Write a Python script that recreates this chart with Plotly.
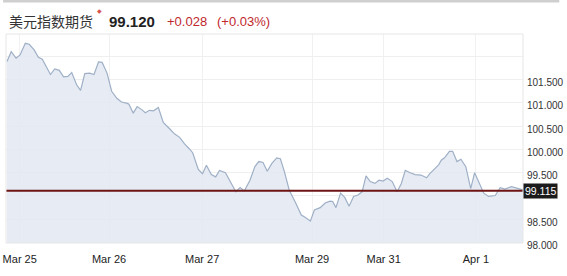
import plotly.graph_objects as go

# ---- data ----
t = [1, 5.3, 10.3, 14.3, 19.7, 23.7, 28.7, 33, 37, 45.3, 49.7, 54.3, 58.7, 63, 67, 72, 76, 80.3,
     85.3, 89.7, 94.3, 98, 103, 107.7, 113, 117.7, 123.7, 125.3, 129.7, 133.7, 138.7, 142, 146.3,
     150.3, 155.3, 160.3, 167, 172, 177, 182, 187, 190.3, 196, 200.3, 204.3, 209.3, 213.7, 217.7,
     223.7, 228.7, 234.3, 238.7, 243, 248.7, 253.7, 257.7, 262, 266.3, 271, 276, 279.7, 283.7,
     288.7, 295.3, 301, 305.3, 310.3, 314.3, 320.3, 325.3, 330.3, 333, 336.3, 341, 345.3, 349.7,
     354.3, 358.7, 363, 367, 371.3, 376, 380.3, 384.3, 388.7, 393.7, 398.7, 403, 407, 412, 417,
     423, 428.7, 432, 436.3, 441, 443.7, 447, 452, 455.3, 459.7, 463.7, 468.7, 473.7, 477.7, 482,
     487, 492, 498.7, 503.7, 508.7, 515.3, 522, 527]
price = [101.89, 102.10, 101.96, 102.03, 102.28, 102.26, 102.14, 101.98, 101.94, 101.61, 101.73,
         101.70, 101.56, 101.57, 101.65, 101.39, 101.27, 101.63, 101.64, 101.61, 101.88, 101.87,
         101.64, 101.25, 101.10, 101.02, 100.99, 100.97, 100.78, 100.92, 100.85, 100.79, 100.84,
         100.83, 100.90, 100.58, 100.44, 100.33, 100.26, 100.12, 100.01, 99.93, 99.57, 99.48,
         99.66, 99.46, 99.41, 99.55, 99.50, 99.31, 99.09, 99.18, 99.11, 99.34, 99.63, 99.74,
         99.72, 99.53, 99.70, 99.82, 99.80, 99.53, 99.13, 98.85, 98.59, 98.54, 98.46, 98.70,
         98.75, 98.85, 98.89, 98.88, 98.75, 99.06, 98.97, 98.78, 98.99, 99.02, 99.09, 99.43,
         99.31, 99.27, 99.34, 99.32, 99.38, 99.31, 99.09, 99.27, 99.55, 99.50, 99.46, 99.45,
         99.39, 99.48, 99.57, 99.67, 99.77, 99.82, 99.96, 99.96, 99.74, 99.79, 99.63, 99.16,
         99.50, 99.31, 99.06, 98.99, 99.01, 99.18, 99.15, 99.20, 99.15, 99.13]
tick_pos = [14, 105, 200, 312, 385, 479]
tick_labels = ["Mar 25", "Mar 26", "Mar 27", "Mar 29", "Mar 31", "Apr 1"]
y_ticks = [98.0, 98.5, 99.0, 99.5, 100.0, 100.5, 101.0, 101.5, 102.0]
# 99.000 is hidden behind the current-level marker; 102.000 has no label
y_labels = ["98.000", "98.500", "", "99.500", "100.000", "100.500", "101.000", "101.500", ""]
ref_level = 99.115
title_name = "美元指数期货"
last_price = "99.120"
change = "+0.028"
change_pct = "(+0.03%)"

W, H = 567, 276
L, R, T, B = 3, 37, 34, 33
PW, PH = W - L - R, H - T - B


def px(xp):
    return (xp - L) / PW


def py(yp):
    return (H - B - yp) / PH


fig = go.Figure()
fig.add_trace(go.Scatter(
    x=t, y=price, mode="lines", fill="tozeroy",
    line=dict(color="#9fb0c6", width=1.2),
    fillcolor="rgba(226,232,242,0.85)", hoverinfo="skip", showlegend=False))

fig.add_shape(type="line", xref="paper", yref="y", x0=0, x1=1, y0=ref_level, y1=ref_level,
              line=dict(color="#6e1414", width=2))

fig.add_annotation(xref="paper", yref="y", x=1, y=ref_level, xanchor="left", yanchor="middle",
                   text=format(ref_level, ".3f"), showarrow=False, bgcolor="#1b1b1b",
                   font=dict(color="white", size=10.5, family="Liberation Sans"),
                   borderpad=1)

# header
fig.add_annotation(xref="paper", yref="paper", x=px(4), y=py(21), xanchor="left", yanchor="middle",
                   text=title_name, showarrow=False,
                   font=dict(size=14, color="#333333", family="Noto Sans CJK SC"))
fig.add_annotation(xref="paper", yref="paper", x=px(98), y=py(11), xanchor="center", yanchor="middle",
                   text="◆", showarrow=False, font=dict(size=6, color="#d9534f"))
fig.add_annotation(xref="paper", yref="paper", x=px(106), y=py(21), xanchor="left", yanchor="middle",
                   text="<b>" + last_price + "</b>", showarrow=False,
                   font=dict(size=15, color="#222222", family="Liberation Sans"))
fig.add_annotation(xref="paper", yref="paper", x=px(165), y=py(21), xanchor="left", yanchor="middle",
                   text=change, showarrow=False,
                   font=dict(size=13, color="#c0282d", family="Liberation Sans"))
fig.add_annotation(xref="paper", yref="paper", x=px(216), y=py(21), xanchor="left", yanchor="middle",
                   text=change_pct, showarrow=False,
                   font=dict(size=13, color="#c0282d", family="Liberation Sans"))

# top gray bar
fig.add_shape(type="rect", xref="paper", yref="paper", x0=px(0), x1=px(W), y0=py(0), y1=py(2.5),
              line=dict(width=0), fillcolor="#cfcfcf")
# plot frame
fig.add_shape(type="rect", xref="paper", yref="paper", x0=0, x1=1, y0=0, y1=1,
              line=dict(color="#e6e6e6", width=1), layer="above")

fig.update_layout(
    width=W, height=H, margin=dict(l=L, r=R, t=T, b=B),
    paper_bgcolor="white", plot_bgcolor="white",
    font=dict(family="Liberation Sans", color="#333333"),
    xaxis=dict(range=[0, PW], tickvals=tick_pos, ticktext=tick_labels, showgrid=True,
               gridcolor="#f1f1f1", zeroline=False, showline=False, ticks="",
               tickfont=dict(size=11, color="#222222"), ticklabelstandoff=8,
               ticklabeloverflow="allow", fixedrange=True),
    yaxis=dict(range=[97.99, 102.48], side="right", tickvals=y_ticks, ticktext=y_labels,
               showgrid=True, gridcolor="#efefef", zeroline=False, showline=False, ticks="",
               tickfont=dict(size=10, color="#333333"), ticklabelshift=3,
               ticklabelstandoff=3, ticklabeloverflow="allow", fixedrange=True),
    showlegend=False,
)

fig.write_html("out.html")
